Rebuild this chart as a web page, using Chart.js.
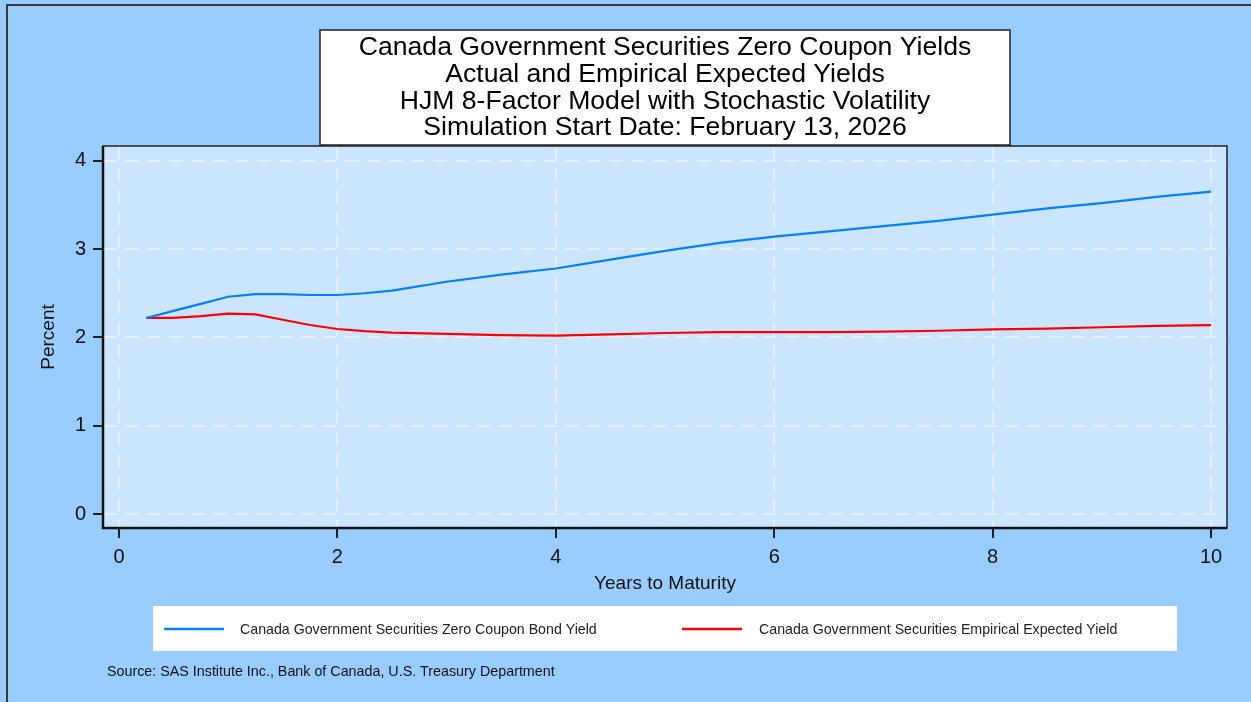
<!DOCTYPE html>
<html>
<head>
<meta charset="utf-8">
<title>Canada Government Securities Zero Coupon Yields</title>
<script src="https://cdn.jsdelivr.net/npm/chart.js@4.4.1/dist/chart.umd.min.js"></script>
<style>
  html, body { margin: 0; padding: 0; background: #99ccff; }
  #wrap { width: 1251px; height: 702px; }
</style>
</head>
<body>
<div id="wrap"><canvas id="Chart" width="1251" height="702"></canvas></div>
<script>
// chart text
const titleLines = [
    'Canada Government Securities Zero Coupon Yields',
    'Actual and Empirical Expected Yields',
    'HJM 8-Factor Model with Stochastic Volatility',
    'Simulation Start Date: February 13, 2026'
];
const seriesLabels = [
    'Canada Government Securities Zero Coupon Bond Yield',
    'Canada Government Securities Empirical Expected Yield'
];
const xTitle = 'Years to Maturity';
const yTitle = 'Percent';
const sourceNote = 'Source: SAS Institute Inc., Bank of Canada, U.S. Treasury Department';

// data (years, percent)
const maturities = [0.25, 0.5, 0.75, 1, 1.25, 1.5, 1.75, 2, 2.25, 2.5, 3, 3.5, 4, 4.5, 5, 5.5, 6, 6.5, 7, 7.5, 8, 8.5, 9, 9.5, 10];
const zeroCouponYield = [2.22, 2.30, 2.38, 2.46, 2.49, 2.49, 2.48, 2.48, 2.50, 2.53, 2.63, 2.71, 2.78, 2.88, 2.98, 3.07, 3.14, 3.20, 3.26, 3.32, 3.39, 3.46, 3.52, 3.59, 3.65];
const expectedYield = [2.22, 2.22, 2.24, 2.27, 2.26, 2.20, 2.14, 2.095, 2.07, 2.055, 2.04, 2.025, 2.02, 2.035, 2.05, 2.06, 2.06, 2.06, 2.065, 2.075, 2.09, 2.10, 2.115, 2.13, 2.14];

const xTicks = [0, 2, 4, 6, 8, 10];
const yTicks = [0, 1, 2, 3, 4];

const fontFamily = "'Liberation Sans', Arial, Helvetica, sans-serif";
const gridColor = 'rgba(238, 240, 243, 0.8)';
const lineColors = ['rgb(0, 128, 255)', 'rgb(255, 0, 0)'];

// backgrounds, frame, title box, legend and source note
const decorations = {
    id: 'decorations',
    beforeDraw(chart) {
        const ctx = chart.ctx;
        const a = chart.chartArea;
        ctx.save();
        ctx.fillStyle = '#99ccff';
        ctx.fillRect(0, 0, chart.width, chart.height);
        ctx.strokeStyle = '#3a3a3a';
        ctx.lineWidth = 2;
        ctx.beginPath();
        ctx.moveTo(7, chart.height + 2);
        ctx.lineTo(7, 5);
        ctx.lineTo(chart.width + 2, 5);
        ctx.stroke();
        ctx.fillStyle = '#cce5ff';
        ctx.fillRect(a.left, a.top, a.right - a.left, a.bottom - a.top);
        ctx.restore();
    },
    afterDraw(chart) {
        const ctx = chart.ctx;
        const a = chart.chartArea;
        ctx.save();

        // plot frame: heavier on the axis sides
        ctx.strokeStyle = '#222';
        ctx.lineWidth = 1.5;
        ctx.strokeRect(a.left, a.top, a.right - a.left, a.bottom - a.top);
        ctx.strokeStyle = '#111';
        ctx.lineWidth = 2.5;
        ctx.beginPath();
        ctx.moveTo(a.left, a.top);
        ctx.lineTo(a.left, a.bottom);
        ctx.lineTo(a.right, a.bottom);
        ctx.stroke();

        // title box
        ctx.fillStyle = '#ffffff';
        ctx.fillRect(320, 30, 690, 115);
        ctx.lineWidth = 1.5;
        ctx.strokeStyle = '#222';
        ctx.strokeRect(320, 30, 690, 115);
        ctx.fillStyle = '#000';
        ctx.font = '26.6px ' + fontFamily;
        ctx.textAlign = 'center';
        ctx.textBaseline = 'middle';
        titleLines.forEach((line, i) => {
            ctx.fillText(line, 665, 48 + i * 26.6);
        });

        // legend
        ctx.fillStyle = '#ffffff';
        ctx.fillRect(153, 606, 1024, 45);
        const items = [{x1: 164, x2: 224, tx: 240}, {x1: 682, x2: 742, tx: 759}];
        ctx.font = '14.2px ' + fontFamily;
        ctx.textAlign = 'left';
        chart.data.datasets.forEach((ds, i) => {
            const it = items[i];
            ctx.strokeStyle = ds.borderColor;
            ctx.lineWidth = 2.5;
            ctx.beginPath();
            ctx.moveTo(it.x1, 629);
            ctx.lineTo(it.x2, 629);
            ctx.stroke();
            ctx.fillStyle = '#222';
            ctx.fillText(ds.label, it.tx, 630);
        });

        // source
        ctx.fillStyle = '#111';
        ctx.font = '14.3px ' + fontFamily;
        ctx.fillText(sourceNote, 107, 672);
        ctx.restore();
    }
};

const ctx = document.getElementById('Chart').getContext('2d');

const chartOptions = {
    type: 'line',
    data: {
        datasets: [{
            label: seriesLabels[0],
            data: maturities.map((m, i) => ({x: m, y: zeroCouponYield[i]})),
            borderColor: lineColors[0],
            borderWidth: 2.2,
            pointRadius: 0,
            tension: 0,
            fill: false
        }, {
            label: seriesLabels[1],
            data: maturities.map((m, i) => ({x: m, y: expectedYield[i]})),
            borderColor: lineColors[1],
            borderWidth: 2.2,
            pointRadius: 0,
            tension: 0,
            fill: false
        }]
    },
    options: {
        responsive: false,
        animation: false,
        layout: {
            padding: {left: 0, top: 146, right: 24, bottom: 100}
        },
        plugins: {
            legend: {display: false},
            title: {display: false},
            tooltip: {enabled: false}
        },
        scales: {
            x: {
                type: 'linear',
                min: -0.146,
                max: 10.146,
                afterBuildTicks: s => { s.ticks = xTicks.map(v => ({value: v})); },
                afterFit: s => { s.height = 74; },
                grid: {
                    color: gridColor,
                    lineWidth: 2,
                    tickLength: 10,
                    tickColor: '#222',
                    tickWidth: 2
                },
                border: {display: false, dash: [14, 8]},
                ticks: {
                    font: {size: 20, family: fontFamily},
                    color: '#111',
                    padding: 7,
                    maxRotation: 0,
                    callback: v => String(v)
                },
                title: {
                    display: true,
                    text: xTitle,
                    color: '#111',
                    font: {size: 19, family: fontFamily},
                    padding: {top: 0, bottom: 7}
                }
            },
            y: {
                min: -0.158,
                max: 4.167,
                afterBuildTicks: s => { s.ticks = yTicks.map(v => ({value: v})); },
                afterFit: s => { s.width = 103; },
                grid: {
                    color: gridColor,
                    lineWidth: 2,
                    tickLength: 10,
                    tickColor: '#222',
                    tickWidth: 2
                },
                border: {display: false, dash: [14, 8]},
                ticks: {
                    font: {size: 20, family: fontFamily},
                    color: '#111',
                    padding: 7,
                    callback: v => String(v)
                },
                title: {
                    display: true,
                    text: yTitle,
                    color: '#111',
                    font: {size: 19, family: fontFamily},
                    padding: {top: 37, bottom: 0}
                }
            }
        }
    },
    plugins: [decorations]
};

const myChart = new Chart(ctx, chartOptions);
</script>
</body>
</html>
